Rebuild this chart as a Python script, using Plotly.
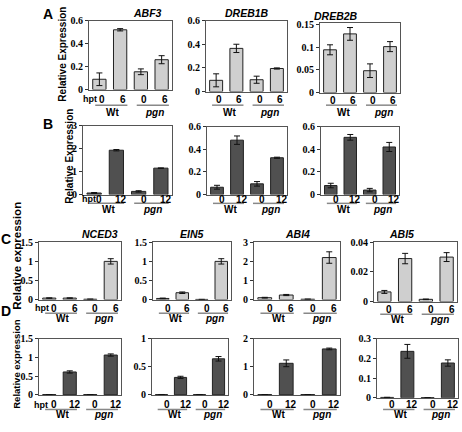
import plotly.graph_objects as go

W, H = 462, 432

# ---------------- data ----------------
genes_ab = ["ABF3", "DREB1B", "DREB2B"]
genes_cd = ["NCED3", "EIN5", "ABI4", "ABI5"]
hpt_6 = ["0", "6", "0", "6"]
hpt_12 = ["0", "12", "0", "12"]
genotypes = ["Wt", "pgn"]

abf3_a = [0.09, 0.52, 0.155, 0.26]
abf3_a_err = [0.055, 0.01, 0.025, 0.035]
dreb1b_a = [0.095, 0.365, 0.10, 0.195]
dreb1b_a_err = [0.055, 0.035, 0.03, 0.005]
dreb2b_a = [0.094, 0.129, 0.048, 0.101]
dreb2b_a_err = [0.011, 0.014, 0.015, 0.011]

abf3_b = [0.07, 1.93, 0.14, 1.15]
abf3_b_err = [0.02, 0.03, 0.03, 0.01]
dreb1b_b = [0.065, 0.48, 0.095, 0.325]
dreb1b_b_err = [0.017, 0.037, 0.02, 0.005]
dreb2b_b = [0.08, 0.505, 0.04, 0.42]
dreb2b_b_err = [0.02, 0.025, 0.015, 0.04]

nced3_c = [0.04, 0.04, 0.01, 1.0]
nced3_c_err = [0.005, 0.005, 0.003, 0.07]
ein5_c = [0.03, 0.18, 0.005, 1.0]
ein5_c_err = [0.01, 0.02, 0.002, 0.07]
abi4_c = [0.1, 0.24, 0.02, 2.2]
abi4_c_err = [0.02, 0.03, 0.005, 0.3]
abi5_c = [0.0065, 0.029, 0.0015, 0.03]
abi5_c_err = [0.001, 0.0035, 0.0002, 0.003]

nced3_d = [0.008, 0.61, 0.008, 1.06]
nced3_d_err = [0.002, 0.03, 0.002, 0.03]
ein5_d = [0.005, 0.31, 0.005, 0.64]
ein5_d_err = [0.002, 0.02, 0.002, 0.04]
abi4_d = [0.01, 1.12, 0.01, 1.63]
abi4_d_err = [0.002, 0.12, 0.002, 0.03]
abi5_d = [0.002, 0.235, 0.001, 0.176]
abi5_d_err = [0.0005, 0.035, 0.0005, 0.016]

LIGHT = "#cfcfcf"
DARK = "#505050"

# panel layout: (values, errors, color, box px (x0,x1,ytop,ybot), yrange top, dtick,
#                time labels, title, label rows (tick y, line y, group y), hpt shift or None)
panels = [
    (abf3_a, abf3_a_err, LIGHT, (89, 172, 15, 86), 0.6, 0.2, hpt_6, genes_ab[0], (96, 102, 110), 1),
    (dreb1b_a, dreb1b_a_err, LIGHT, (206, 287, 15, 88), 0.6, 0.2, hpt_6, genes_ab[1], (96, 102, 110), None),
    (dreb2b_a, dreb2b_a_err, LIGHT, (320, 400, 17, 89), 0.154, 0.05, hpt_6, genes_ab[2], (97, 102, 110), None),
    (abf3_b, abf3_b_err, DARK, (83, 172, 123, 194), 3, 1, hpt_12, None, (199, 203, 209), 6),
    (dreb1b_b, dreb1b_b_err, DARK, (207, 287, 124, 194), 0.6, 0.2, hpt_12, None, (199, 203, 209), None),
    (dreb2b_b, dreb2b_b_err, DARK, (321, 399, 124, 194), 0.6, 0.2, hpt_12, None, (199, 203, 209), None),
    (nced3_c, nced3_c_err, LIGHT, (39, 121, 243, 302), 1.5, 0.5, hpt_6, genes_cd[0], (311, 316, 321), 3),
    (ein5_c, ein5_c_err, LIGHT, (153, 231, 243, 302), 1.5, 0.5, hpt_6, genes_cd[1], (311, 316, 321), None),
    (abi4_c, abi4_c_err, LIGHT, (254, 340, 243, 302), 3, 1, hpt_6, genes_cd[2], (311, 316, 321), None),
    (abi5_c, abi5_c_err, LIGHT, (374, 457, 243, 304), 0.04, 0.02, hpt_6, genes_cd[3], (312, 317, 322), None),
    (nced3_d, nced3_d_err, DARK, (39, 121, 342, 400), 1.5, 0.5, hpt_12, None, (410, 415, 420), 2),
    (ein5_d, ein5_d_err, DARK, (152, 228, 342, 400), 1.0, 0.5, hpt_12, None, (410, 415, 420), None),
    (abi4_d, abi4_d_err, DARK, (254, 340, 342, 400), 2, 1, hpt_12, None, (410, 415, 420), None),
    (abi5_d, abi5_d_err, DARK, (377, 458, 342, 403), 0.3, 0.1, hpt_12, None, (410, 415, 420), None),
]


def px(x):
    return x / W


def py(y):
    return 1 - y / H


fig = go.Figure()
annotations = []
shapes = []
SANS = "Arial, Liberation Sans, sans-serif"
SERIF = "Times New Roman, Liberation Serif, serif"

for i, (vals, errs, col, box, ytop, dtick, tlabels, title, rows, hpt_shift) in enumerate(panels):
    n = i + 1
    xa = "x" if n == 1 else f"x{n}"
    ya = "y" if n == 1 else f"y{n}"
    cats = list(range(len(vals)))
    fig.add_trace(go.Bar(
        x=cats, y=vals, xaxis=xa, yaxis=ya, width=0.64,
        marker=dict(color=col, line=dict(color="#222222", width=1)),
        error_y=dict(type="data", array=errs, color="#111111", thickness=1, width=3),
        showlegend=False, hoverinfo="skip",
    ))
    x0, x1, yt, yb = box
    fig.layout[f"xaxis{'' if n == 1 else n}"] = dict(
        domain=[px(x0), px(x1)], anchor=ya, range=[-0.5, 3.5],
        showticklabels=False, ticks="", showgrid=False, zeroline=False,
        showline=True, mirror=True, linecolor="#555555", linewidth=1,
    )
    fig.layout[f"yaxis{'' if n == 1 else n}"] = dict(
        domain=[py(yb), py(yt)], anchor=xa, range=[0, ytop], dtick=dtick, tick0=0,
        showgrid=False, zeroline=False, showline=True, mirror=True,
        linecolor="#555555", linewidth=1, ticks="outside", ticklen=3,
        tickcolor="#333333",
        tickfont=dict(family=SERIF, size=10, color="black", weight="bold"),
    )
    ty, ly, gy = rows
    tshift = 3 if i < 3 else 5
    for k, t in enumerate(tlabels):
        annotations.append(dict(
            x=cats[k], y=py(ty), xref=xa, yref="paper", text=t, showarrow=False,
            xshift=tshift, yanchor="middle",
            font=dict(family=SANS, size=10, color="black", weight="bold"),
        ))
    if hpt_shift is not None:
        annotations.append(dict(
            x=-0.5, y=py(ty), xref=xa, yref="paper", text="hpt", showarrow=False,
            xanchor="center", xshift=hpt_shift, yanchor="middle",
            font=dict(family=SANS, size=9, color="black", weight="bold"),
        ))
    for g, gname in enumerate(genotypes):
        a = cats[2 * g]
        b = cats[2 * g + 1]
        shapes.append(dict(
            type="line", xref=xa, yref="paper", x0=a - 0.2, x1=b + 0.35,
            y0=py(ly), y1=py(ly), line=dict(color="#888888", width=1.5),
        ))
        annotations.append(dict(
            x=(a + b) / 2, y=py(gy), xref=xa, yref="paper",
            text=gname if gname == "Wt" else f"<i>{gname}</i>",
            showarrow=False, yanchor="middle", xshift=3,
            font=dict(family=SANS, size=10, color="black", weight="bold"),
        ))
    if title:
        title_y = {0: 7, 1: 7, 2: 10}.get(i, 235)
        annotations.append(dict(
            x=px((x0 + x1) / 2), y=py(title_y), xref="paper", yref="paper",
            text=f"<i>{title}</i>", showarrow=False, yanchor="middle",
            font=dict(family=SANS, size=10.5, color="black", weight="bold"),
        ))

# y axis titles
ytitles = [
    ("Relative Expression", 63, 49, 10),
    ("Relative Expression", 70, 155, 10),
    ("Relative expression", 17, 257, 11.5),
    ("Relative expression", 17, 369, 9.5),
]
for text, xx, yy, sz in ytitles:
    annotations.append(dict(
        x=px(xx), y=py(yy), xref="paper", yref="paper", text=text, textangle=-90,
        showarrow=False, xanchor="center", yanchor="middle",
        font=dict(family=SANS, size=sz, color="black", weight="bold"),
    ))

# panel letters
letters = [("A", 48, 8), ("B", 48, 121), ("C", 6, 240), ("D", 6, 314)]
for t, xx, yy in letters:
    annotations.append(dict(
        x=px(xx), y=py(yy), xref="paper", yref="paper", text=t, showarrow=False,
        xanchor="center", yanchor="middle",
        font=dict(family=SANS, size=14, color="black", weight="bold"),
    ))

fig.update_layout(
    width=W, height=H, margin=dict(l=0, r=0, t=0, b=0),
    paper_bgcolor="white", plot_bgcolor="white",
    annotations=annotations, shapes=shapes, bargap=0.3,
)

fig.write_html(
    "out.html",
    config={"displayModeBar": False},
    post_script="document.body.style.margin='0';document.body.style.overflow='hidden';",
)
